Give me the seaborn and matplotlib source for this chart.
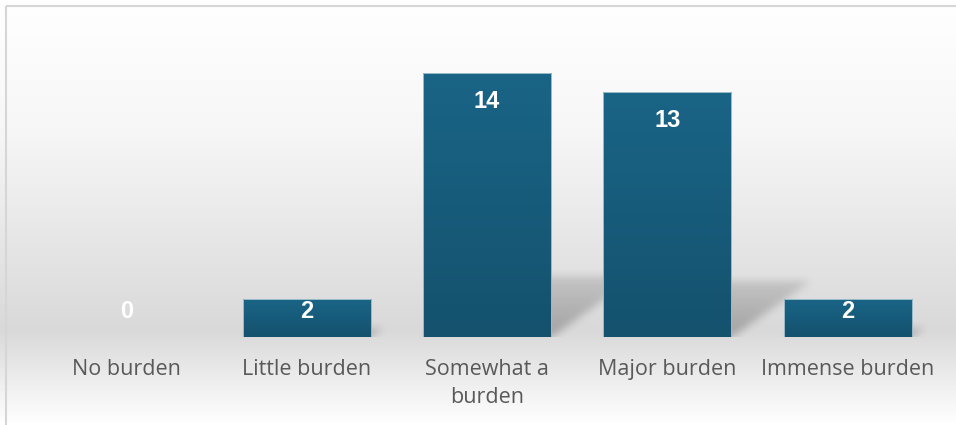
import numpy as np
import pandas as pd
import matplotlib
matplotlib.use("Agg")
import matplotlib.pyplot as plt
import seaborn as sns
from matplotlib.colors import LinearSegmentedColormap

# Survey responses: how much of a burden
categories = ["No burden", "Little burden", "Somewhat a\nburden", "Major burden", "Immense burden"]
counts = [0, 2, 14, 13, 2]

W, H, DPI = 956, 425, 100
sns.set_theme(style="white")
plt.rcParams["font.family"] = ["Open Sans", "DejaVu Sans"]

fig = plt.figure(figsize=(W / DPI, H / DPI), dpi=DPI)

# ---- chart-area background: vertical white -> grey -> white gradient ----
bg = fig.add_axes([0, 0, 1, 1], zorder=0)
bg_cmap = LinearSegmentedColormap.from_list(
    "bg", [(0.0, "#ffffff"), (0.30, "#f7f7f7"), (0.78, "#d9d9d9"), (1.0, "#ffffff")])
bg.imshow(np.linspace(0, 1, H)[:, None], aspect="auto", cmap=bg_cmap,
          extent=(0, W, H, 0), interpolation="bilinear")
bg.plot([6.5, 6.5], [5.5, H], color="#d6d6d6", lw=1.5, solid_capstyle="butt")
bg.plot([6.5, W], [5.5, 5.5], color="#d6d6d6", lw=1.5, solid_capstyle="butt")
bg.set_xlim(0, W)
bg.set_ylim(H, 0)
bg.axis("off")

# ---- main plotting axes ----
ax_l, ax_r, ax_t, ax_b = 36, 938, 35, 337
ax = fig.add_axes([ax_l / W, 1 - ax_b / H, (ax_r - ax_l) / W, (ax_b - ax_t) / H], zorder=1)
ax.patch.set_alpha(0)

YMAX = 16
df = pd.DataFrame({"category": categories, "count": counts})
sns.barplot(data=df, x="category", y="count", color="#175b7c", saturation=1,
            width=0.71, ax=ax, zorder=3, edgecolor="#9dbccb", linewidth=0.7)

# vertical gradient inside each bar
bar_cmap = LinearSegmentedColormap.from_list("bar", ["#14526e", "#1a6486"])
for p in ax.patches:
    x0, y0, w, h = p.get_x(), p.get_y(), p.get_width(), p.get_height()
    if h <= 0:
        p.set_linewidth(0)
        continue
    im = ax.imshow(np.linspace(0, 1, 64)[:, None], cmap=bar_cmap, origin="lower",
                   extent=(x0, x0 + w, y0, y0 + h), aspect="auto", zorder=2.9,
                   interpolation="bilinear")
    im.set_clip_path(p)
    p.set_facecolor("none")

# ---- perspective drop shadow cast to the upper right of each bar ----
nx, ny = ax_r - ax_l, ax_b - ax_t
px_per_x = nx / 5.0
px_per_y = ny / YMAX
xs = np.arange(nx) + 0.5
ys = np.arange(ny) + 0.5
XX, YY = np.meshgrid(xs, ys)
alpha = np.zeros((ny, nx))
for p in ax.patches:
    h = p.get_height()
    if h <= 0:
        continue
    left = (p.get_x() + 0.5) * px_per_x
    right = left + p.get_width() * px_per_x
    sh = 0.23 * h * px_per_y
    skew = 1.4
    m = (YY <= sh) & (XX >= left + skew * YY) & (XX <= right + skew * YY)
    a = np.where(m, 0.25 * (1 - 0.5 * YY / max(sh, 1)), 0)
    alpha = np.maximum(alpha, a)


def blur(arr, s):
    r = int(3 * s)
    k = np.exp(-0.5 * (np.arange(-r, r + 1) / s) ** 2)
    k /= k.sum()
    arr = np.apply_along_axis(lambda v: np.convolve(v, k, mode="same"), 0, arr)
    arr = np.apply_along_axis(lambda v: np.convolve(v, k, mode="same"), 1, arr)
    return arr


alpha = blur(alpha, 4.0)
shadow = np.zeros((ny, nx, 4))
shadow[..., 3] = alpha
ax.imshow(shadow, origin="lower", extent=(-0.5, 4.5, 0, YMAX), aspect="auto",
          zorder=1, interpolation="bilinear")

# ---- value labels inside the top of each bar ----
for i, v in enumerate(counts):
    y_lab = max(v - 29 / px_per_y, 26 / px_per_y)
    ax.text(i, y_lab, str(v), ha="center", va="center", color="white",
            fontsize=17, fontweight="bold", family=["Liberation Sans", "DejaVu Sans"],
            zorder=6)

ax.set_xlim(-0.5, 4.5)
ax.set_ylim(0, YMAX)
ax.set_xticks(range(len(categories)))
ax.set_xticklabels(categories, fontsize=15.5, color="#595959", linespacing=1.45)
ax.tick_params(axis="x", length=0, pad=15.5)
ax.set_yticks([])
ax.set_xlabel("")
ax.set_ylabel("")
for s in ax.spines.values():
    s.set_visible(False)

fig.savefig("out.png", dpi=DPI)
